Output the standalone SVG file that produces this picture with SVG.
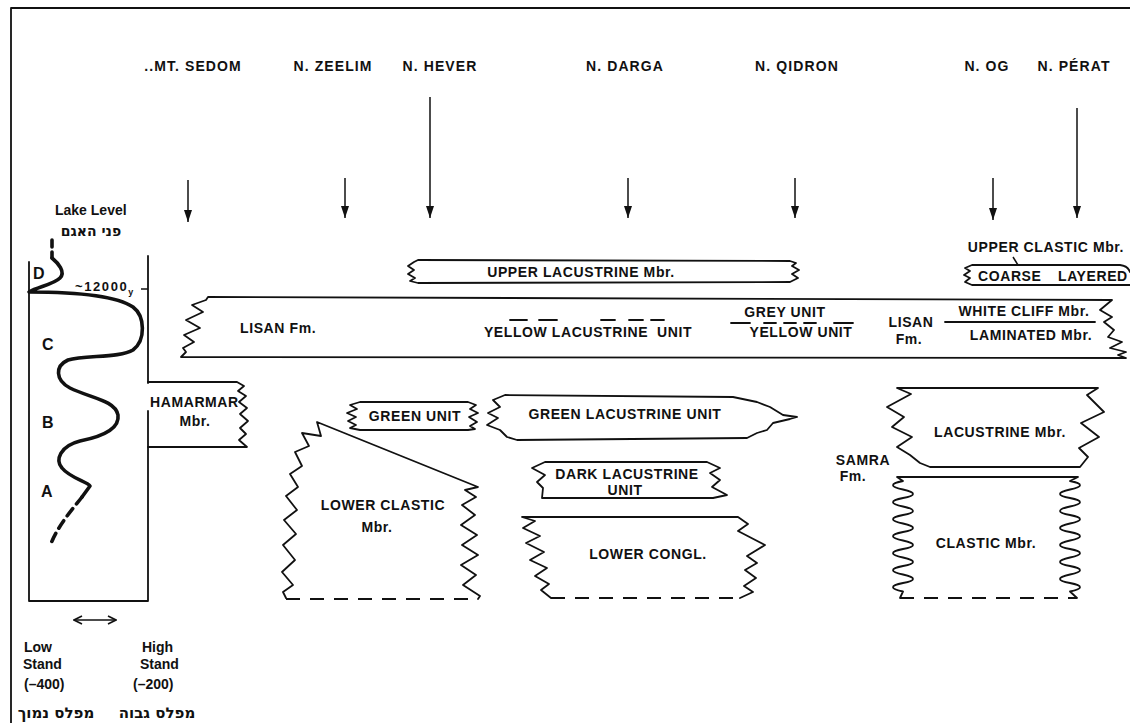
<svg xmlns="http://www.w3.org/2000/svg" width="1130" height="723" viewBox="0 0 1130 723">
  <defs>
    <style>
      .t { font-family: "Liberation Sans", Arial, sans-serif; font-weight: bold; font-size: 14px; letter-spacing: 0.6px; fill: #111; }
      .h { letter-spacing: 1.1px; }
      .m { text-anchor: middle; }
      .s { letter-spacing: 0; }
      .big { font-size: 16px; }
      .he { font-family: "DejaVu Sans", "Liberation Sans", sans-serif; font-weight: bold; font-size: 14px; fill: #111; text-anchor: middle; }
      .he16 { font-size: 15px; }
      .edge { fill: none; stroke: #111; stroke-width: 1.8; stroke-linejoin: round; stroke-linecap: round; }
      .box { fill: #fff; stroke: #111; stroke-width: 1.8; stroke-linejoin: round; }
      .dash { fill: none; stroke: #111; stroke-width: 1.8; stroke-dasharray: 14 10; }
      .curve { fill: none; stroke: #111; stroke-width: 3.6; stroke-linecap: round; stroke-linejoin: round; }
      .conn { fill: none; stroke: #111; stroke-width: 1.5; }
    </style>
    <marker id="ah" viewBox="0 0 12 8" refX="12" refY="4" markerWidth="12" markerHeight="8" markerUnits="userSpaceOnUse" orient="auto">
      <path d="M0,0 L12,4 L0,8 Z" fill="#111"/>
    </marker>
    <marker id="oh" viewBox="0 0 10 10" refX="9" refY="5" markerWidth="10" markerHeight="10" markerUnits="userSpaceOnUse" orient="auto-start-reverse">
      <path d="M1,1 L9,5 L1,9" fill="none" stroke="#111" stroke-width="1.6"/>
    </marker>
  </defs>

  <rect width="1130" height="723" fill="#fff"/>

  <!-- page frame -->
  <path class="edge" d="M11,723 V8 H1130"/>

  <!-- section headers -->
  <g id="headers">
    <text class="t h m" x="193" y="71">..MT. SEDOM</text>
    <text class="t h m" x="333" y="71">N. ZEELIM</text>
    <text class="t h m" x="440" y="71">N. HEVER</text>
    <text class="t h m" x="625" y="71">N. DARGA</text>
    <text class="t h m" x="797" y="71">N. QIDRON</text>
    <text class="t h m" x="987" y="71">N. OG</text>
    <text class="t h m" x="1074" y="71">N. PÉRAT</text>
  </g>

  <!-- section arrows -->
  <g id="connectors">
    <path class="conn" d="M188,180 V222" marker-end="url(#ah)"/>
    <path class="conn" d="M345,178 V218" marker-end="url(#ah)"/>
    <path class="conn" d="M430,97 V218" marker-end="url(#ah)"/>
    <path class="conn" d="M628,178 V218" marker-end="url(#ah)"/>
    <path class="conn" d="M795,178 V218" marker-end="url(#ah)"/>
    <path class="conn" d="M993,178 V220" marker-end="url(#ah)"/>
    <path class="conn" d="M1077,108 V218" marker-end="url(#ah)"/>
    <path class="conn" d="M1013,257 L1018,265"/>
    <path class="conn" d="M74,620 H116" marker-start="url(#oh)" marker-end="url(#oh)"/>
  </g>

  <!-- lake level curve -->
  <g id="lake-level">
    <text class="t s" x="55" y="215">Lake Level</text>
    <text class="he" x="91" y="236">פני האגם</text>
    <path class="edge" d="M29,262 V601 H148 V411"/>
    <path class="edge" d="M148,383 V256"/>
    <path class="curve" d="M52,240 V258" stroke-dasharray="7 5"/>
    <path class="curve" d="M52,258 C58,263 66,272 60,278 C54,284 38,287 29,292 C70,292 115,295 133,307 C145,316 146,340 133,350 C120,358 85,355 68,360 C55,366 55,380 70,388 C90,398 115,400 118,415 C120,430 100,437 80,441 C60,446 55,460 62,468 C70,478 88,482 90,486 L82,497"/>
    <path class="curve" d="M82,497 C72,510 58,525 50,546" stroke-dasharray="9 6"/>
    <text class="t s big" x="33" y="279">D</text>
    <text class="t s big" x="42" y="350">C</text>
    <text class="t s big" x="42" y="428">B</text>
    <text class="t s big" x="41" y="497">A</text>
    <text class="t" x="75" y="291" style="font-size:13px;letter-spacing:1.6px">~12000<tspan style="font-size:9px;letter-spacing:0" dy="4">y</tspan></text>
    <path class="conn" d="M141,289 H148"/>
    <text class="t s" x="24" y="652">Low</text>
    <text class="t s" x="23" y="669">Stand</text>
    <text class="t s" x="24" y="689">(–400)</text>
    <text class="t s" x="142" y="652">High</text>
    <text class="t s" x="140" y="669">Stand</text>
    <text class="t s" x="133" y="689">(–200)</text>
    <text class="he he16" x="56" y="718">מפלס נמוך</text>
    <text class="he he16" x="157" y="718">מפלס גבוה</text>
  </g>

  <!-- Hamarmar Mbr. -->
  <g id="hamarmar">
    <path class="edge" d="M148,382 L237,382 L244,386 L238,391 L246,396 L239,402 L247,408 L240,414 L248,421 L240,428 L246,434 L239,440 L247,447 L148,447"/>
    <text class="t" x="150" y="407">HAMARMAR</text>
    <text class="t m" x="195" y="426">Mbr.</text>
  </g>

  <!-- Upper Lacustrine Mbr. -->
  <g id="upper-lacustrine">
    <path class="box" d="M418,260 L790,261 L796,263 L792,266 L799,270 L792,274 L798,278 L790,282 L418,283 L410,281 L415,278 L408,274 L414,270 L408,266 L414,262 Z"/>
    <text class="t m" x="581" y="277">UPPER LACUSTRINE Mbr.</text>
  </g>

  <!-- Upper Clastic Mbr. -->
  <g id="upper-clastic">
    <text class="t m" x="1046" y="252">UPPER CLASTIC Mbr.</text>
    <path class="edge" d="M1130,285 H972 L965,282 L970,278 L964,275 L970,271 L965,268 L972,265 H1120 Q1128,266 1130,272"/>
    <text class="t" x="978" y="281">COARSE</text>
    <text class="t" x="1058" y="281">LAYERED</text>
  </g>

  <!-- Lisan Fm. -->
  <g id="lisan">
    <path class="edge" d="M208,297 L1112,300 L1100,310 L1112,317 L1104,322 L1114,330 L1108,337 L1122,342 L1110,348 L1126,352 L1118,355 L1126,358 L181,357 L186,352 L183,348 L194,342 L184,335 L200,328 L186,320 L203,312 L192,305 L206,300 Z"/>
    <text class="t" x="240" y="333">LISAN Fm.</text>
    <path class="edge" d="M510,320 H527 M539,320 H557 M601,320 H615 M629,320 H643 M651,320 H664"/>
    <text class="t m" x="588" y="337" xml:space="preserve">YELLOW LACUSTRINE  UNIT</text>
    <text class="t m" x="785" y="317">GREY UNIT</text>
    <path class="edge" d="M731,323 H750 M764,323 H776 M784,323 H796 M804,323 H816 M834,323 H853"/>
    <text class="t m" x="801" y="337">YELLOW UNIT</text>
    <text class="t m" x="911" y="327">LISAN</text>
    <text class="t m" x="909" y="344">Fm.</text>
    <text class="t m" x="1024" y="316">WHITE CLIFF Mbr.</text>
    <path class="edge" d="M945,322 H1095"/>
    <text class="t m" x="1031" y="340">LAMINATED Mbr.</text>
  </g>

  <!-- Green Unit -->
  <g id="green-unit">
    <path class="box" d="M360,402 L468,402 L476,405 L470,409 L478,413 L469,417 L477,422 L470,426 L475,429 L468,430 L360,430 L350,428 L356,425 L348,421 L356,417 L347,413 L357,409 L350,405 Z"/>
    <text class="t m" x="415" y="421">GREEN UNIT</text>
  </g>

  <!-- Green Lacustrine Unit -->
  <g id="green-lacustrine">
    <path class="box" d="M505,395 L733,397 L757,402 L770,407 L783,415 L797,417 L790,419 L773,423 L767,430 L757,433 L747,438 L517,440 L507,437 L500,430 L487,425 L498,418 L488,413 L500,407 L493,400 Z"/>
    <text class="t m" x="625" y="419">GREEN LACUSTRINE UNIT</text>
  </g>

  <!-- Dark Lacustrine Unit -->
  <g id="dark-lacustrine">
    <path class="box" d="M545,462 L707,462 L720,468 L710,473 L720,480 L712,487 L727,495 L713,498 L542,498 L543,488 L537,482 L545,475 L532,468 Z"/>
    <text class="t m" x="627" y="479">DARK LACUSTRINE</text>
    <text class="t m" x="625" y="495">UNIT</text>
  </g>

  <!-- Lower Conglomerate -->
  <g id="lower-congl">
    <path class="edge" d="M551,598 L541,590 L549,584 L535,576 L547,568 L530,560 L544,552 L526,543 L540,536 L523,528 L535,521 L522,517 L738,517 L748,524 L738,531 L765,545 L747,556 L757,563 L745,570 L756,578 L744,586 L753,592 L740,598"/>
    <path class="dash" d="M551,598 H740"/>
    <text class="t m" x="648" y="559">LOWER CONGL.</text>
  </g>

  <!-- Lower Clastic Mbr. -->
  <g id="lower-clastic">
    <path class="edge" d="M286,598 L283,592 L293,585 L282,572 L295,560 L283,545 L296,534 L284,520 L297,510 L286,496 L298,487 L290,474 L302,466 L295,452 L309,446 L302,433 L321,436 L317,422 L478,487 L465,490 L476,497 L462,505 L475,515 L461,525 L477,535 L462,545 L478,555 L461,565 L476,575 L463,585 L480,596 L478,599"/>
    <path class="dash" d="M286,599 H478"/>
    <text class="t m" x="383" y="510">LOWER CLASTIC</text>
    <text class="t m" x="377" y="532">Mbr.</text>
  </g>

  <!-- Samra Fm. -->
  <g id="samra">
    <text class="t m" x="863" y="465">SAMRA</text>
    <text class="t m" x="853" y="481">Fm.</text>
  </g>

  <!-- Samra Lacustrine Mbr. -->
  <g id="samra-lacustrine">
    <path class="box" d="M897,388 L1098,388 L1087,395 L1104,412 L1081,423 L1099,437 L1079,448 L1088,457 L1080,467 L930,467 L920,463 L910,455 L897,447 L912,437 L892,427 L904,417 L887,407 L911,394 Z"/>
    <text class="t m" x="1000" y="437">LACUSTRINE Mbr.</text>
  </g>

  <!-- Samra Clastic Mbr. -->
  <g id="samra-clastic">
    <path class="edge" d="M900,598 L903,591.5 Q883,587 903,583 T903,574.5 T903,566 T903,557.5 T903,549 T903,540.5 T903,532 T903,523.5 T903,515 T903,506.5 T903,498 T903,489.5 T903,481 L897,477 L1078,477 L1070,481 Q1090,485 1070,489.5 T1070,498 T1070,506.5 T1070,515 T1070,523.5 T1070,532 T1070,540.5 T1070,549 T1070,557.5 T1070,566 T1070,574.5 T1070,583 T1070,591.5 L1077,598"/>
    <path class="dash" d="M900,598 H1077"/>
    <text class="t m" x="986" y="548">CLASTIC Mbr.</text>
  </g>
</svg>
